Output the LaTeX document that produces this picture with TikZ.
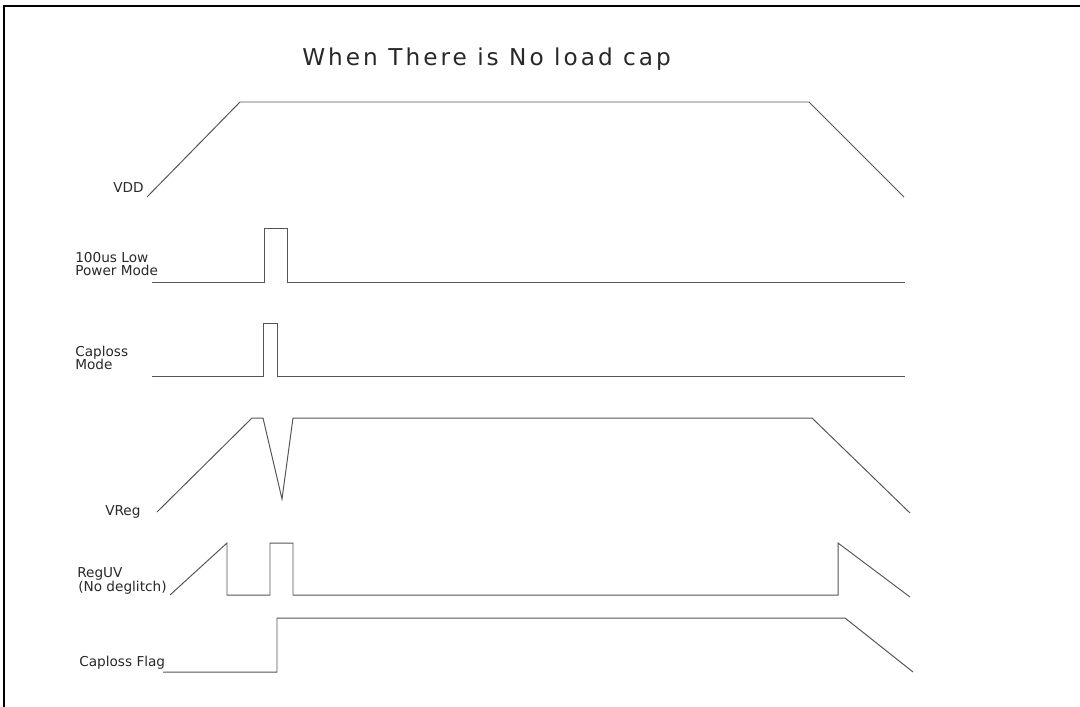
\documentclass[tikz,border=0pt]{standalone}
\usepackage{fontspec}
\usepackage{tikz}
\newfontfamily\cadfont{DejaVu Sans}
\newfontfamily\cadtitlefont[LetterSpace=13]{DejaVu Sans}
\definecolor{wavegray}{RGB}{85, 85, 85}
\definecolor{labelgray}{RGB}{40, 40, 40}

\begin{document}
\begin{tikzpicture}[x=0.025cm, y=-0.025cm,
    wave/.style={draw=wavegray, line width=0.7pt, line join=miter},
    siglabel/.style={anchor=base west, inner sep=0pt, text=labelgray,
      font={\cadfont\fontsize{9.7pt}{11pt}\selectfont}}]
    \useasboundingbox (0,0) rectangle (1080,706);
    \clip (0,0) rectangle (1080,706);
    \draw[line width=1.4pt] (4,6) rectangle (1100,730);
    \node (title) at (302,65) [anchor=base west, inner sep=0pt, text=labelgray,
      font={\cadtitlefont\fontsize{16.5pt}{18pt}\selectfont}] {When There is No load cap};
    % VDD
    \draw[wave] (147,197) -- (240,102) -- (809,102) -- (904,197);
    \node (vdd) at (113,192) [siglabel] {VDD};
    % low power mode
    \draw[wave] (152,282) -- (264,282) -- (264,228) -- (287,228) -- (287,282) -- (905,282);
    \node (lpm1) at (75,262) [siglabel] {100us Low};
    \node (lpm2) at (75,275) [siglabel] {Power Mode};
    % caploss mode
    \draw[wave] (152,376) -- (263,376) -- (263,323) -- (277,323) -- (277,376) -- (905,376);
    \node (clm1) at (75,356) [siglabel] {Caploss};
    \node (clm2) at (75,369) [siglabel] {Mode};
    % VReg
    \draw[wave] (157,512) -- (252,418) -- (263,418) -- (282,499) -- (293,418) -- (812,418) -- (910,513);
    \node (vreg) at (105,515) [siglabel] {VReg};
    % RegUV
    \draw[wave] (170,595) -- (227,543) -- (227,595) -- (270,595) -- (270,543) -- (293,543)
      -- (293,595) -- (838,595) -- (838,543) -- (910,597);
    \node (reguv1) at (77,577) [siglabel] {RegUV};
    \node (reguv2) at (78,591) [siglabel] {(No deglitch)};
    % caploss flag
    \draw[wave] (163,672) -- (277,672) -- (277,618) -- (845,618) -- (913,672);
    \node (flag) at (79,666) [siglabel] {Caploss Flag};
\end{tikzpicture}
\end{document}
